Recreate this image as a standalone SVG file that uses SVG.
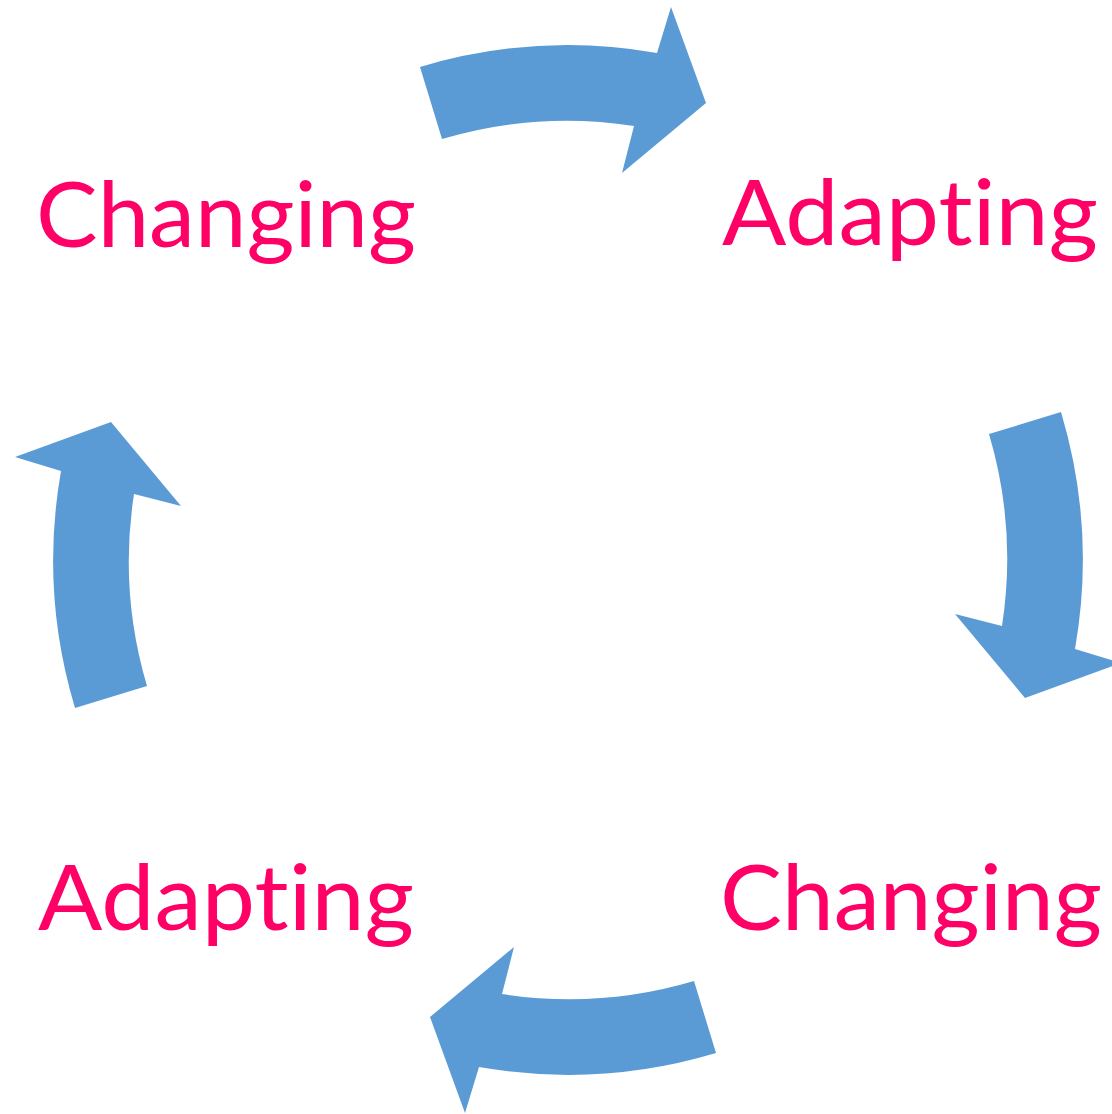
<svg xmlns="http://www.w3.org/2000/svg" width="1112" height="1114" viewBox="0 0 1112 1114">
  <style>
    .arrow { fill: #5B9BD5; }
    .label { fill: #FF0066; font-family: Lato, "Open Sans", "Liberation Sans", sans-serif; font-size: 92px; text-anchor: middle; font-variant-ligatures: none; font-feature-settings: "liga" 0, "clig" 0; }
  </style>
  <defs>
    <!-- one curved arrow on the ring centred at (568,560), outer r=515, inner r=439 -->
    <path id="ring-arrow" d="M 420,67 A 515 515 0 0 1 657,53 L 671,7 L 706,103 L 622,173 L 634,126 A 439 439 0 0 0 442,139 Z"/>
  </defs>
  <rect width="1112" height="1114" fill="#FFFFFF"/>
  <g id="connectors" class="arrow">
    <use href="#ring-arrow"/>
    <use href="#ring-arrow" transform="rotate(90 568 560)"/>
    <use href="#ring-arrow" transform="rotate(180 568 560)"/>
    <use href="#ring-arrow" transform="rotate(270 568 560)"/>
  </g>
  <g id="node-changing-top">
    <text class="label" x="226" y="247" textLength="380" lengthAdjust="spacingAndGlyphs">Changing</text>
  </g>
  <g id="node-adapting-top">
    <text class="label" x="910" y="245" textLength="376" lengthAdjust="spacingAndGlyphs">Adapting</text>
  </g>
  <g id="node-changing-bottom">
    <text class="label" x="911" y="930" textLength="382" lengthAdjust="spacingAndGlyphs">Changing</text>
  </g>
  <g id="node-adapting-bottom">
    <text class="label" x="226" y="930" textLength="376" lengthAdjust="spacingAndGlyphs">Adapting</text>
  </g>
</svg>
